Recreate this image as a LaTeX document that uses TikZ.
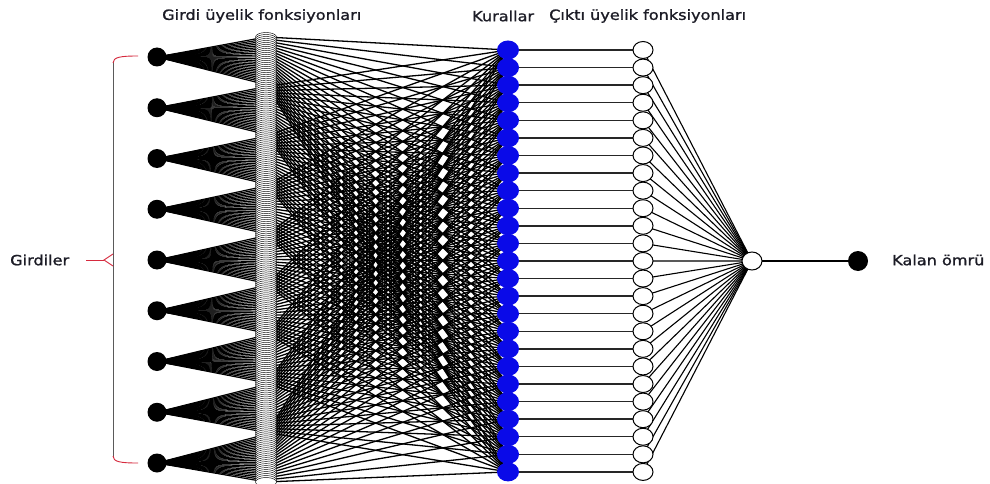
\documentclass[tikz,border=0pt]{standalone}
\usepackage{fontspec}
\setmainfont{DejaVu Sans}
\newfontfamily\labelfont[FakeStretch=1.15,FakeBold=1.2]{DejaVu Sans}
\usetikzlibrary{shapes.geometric}

\definecolor{rulefill}{RGB}{10,10,232}
\definecolor{bracered}{RGB}{214,42,62}
\definecolor{labelink}{RGB}{28,28,38}
\definecolor{bracegray}{RGB}{90,90,90}

\pgfdeclarelayer{paper}
\pgfdeclarelayer{wires}
\pgfsetlayers{paper,wires,main}

\tikzset{
  inputnode/.style={circle,fill=black,minimum size=19pt,inner sep=0pt},
  mfnode/.style={ellipse,draw=black,fill=white,line width=0.45pt,
                 minimum width=21pt,minimum height=9pt,inner sep=0pt},
  rulenode/.style={ellipse,fill=rulefill,minimum width=22pt,minimum height=19pt,inner sep=0pt},
  outmfnode/.style={ellipse,draw=black,fill=white,line width=1pt,
                    minimum width=20pt,minimum height=17pt,inner sep=0pt},
  aggnode/.style={ellipse,draw=black,fill=white,line width=1pt,
                  minimum width=20pt,minimum height=18pt,inner sep=0pt},
  outnode/.style={circle,fill=black,minimum size=20pt,inner sep=0pt},
  fanline/.style={line width=1.2pt},
  linkline/.style={line width=1.3pt},
  ruleline/.style={line width=1.4pt,draw=black!85},
  aggline/.style={line width=1.1pt},
  bracestroke/.style={draw=bracered,line width=0.9pt},
  lbl/.style={font=\labelfont\fontsize{14}{16}\selectfont,text=labelink,
              inner sep=0pt,anchor=west},
}

\begin{document}
\begin{tikzpicture}[x=1pt,y=-1pt]
  \begin{pgfonlayer}{paper}
    \fill[white] (0,0) rectangle (990,484);
  \end{pgfonlayer}
  \useasboundingbox (0,0) rectangle (990,484);

  % inputs
  \foreach \j in {1,...,9}
    \node[inputnode] (in-\j) at (157,{57+(\j-1)*50.75}) {};

  % input membership functions: 25 per input, stacked in one column
  \foreach \j in {1,...,9}
    \foreach \k in {1,...,25} {
      \pgfmathsetmacro\yy{37+(25*(\j-1)+\k-1)*1.98661}
      \node[mfnode] (m-\j-\k) at (266,\yy) {};
    }

  % rules and output membership functions
  \foreach \k in {1,...,25} {
    \node[rulenode] (r-\k) at (508,{50+(\k-1)*17.58}) {};
    \node[outmfnode] (o-\k) at (643,{50+(\k-1)*17.58}) {};
  }

  \node[aggnode] (agg) at (752,261) {};
  \node[outnode] (out) at (858,261) {};

  % connections, drawn underneath the nodes
  \begin{pgfonlayer}{wires}
    \foreach \j in {1,...,9}
      \foreach \k in {1,...,25} {
        \draw[fanline] (in-\j.center) -- (m-\j-\k.center);
        \draw[linkline] (m-\j-\k.center) -- (r-\k.center);
      }
    \foreach \k in {1,...,25} {
      \draw[ruleline] (r-\k.center) -- (o-\k.center);
      \draw[aggline] (o-\k.center) -- (agg.center);
    }
    \draw[aggline] (agg.center) -- (out.center);
  \end{pgfonlayer}

  % labels
  \node[lbl] (tin)   at (162,16)  {Girdi üyelik fonksiyonları};
  \node[lbl] (trule) at (472,16)  {Kurallar};
  \node[lbl] (tout)  at (549,16)  {Çıktı üyelik fonksiyonları};
  \node[lbl] (girdiler) at (10,260) {Girdiler};
  \node[lbl] (kalan) at (892,260) {Kalan ömrü};

  % brace grouping the inputs
  \coordinate (cusp) at (104,260);
  \draw[draw=bracegray,line width=0.9pt] (113,62) -- (113,457);
  \draw[bracestroke] (138,56) .. controls (121,56) and (113,57) .. (113,63);
  \draw[bracestroke] (113,456) .. controls (113,462) and (121,463) .. (138,463);
  \draw[bracestroke] (113,254) -- (cusp) -- (113,266);
  \draw[bracestroke] ([xshift=17pt]girdiler.east) -- (cusp);
\end{tikzpicture}
\end{document}
